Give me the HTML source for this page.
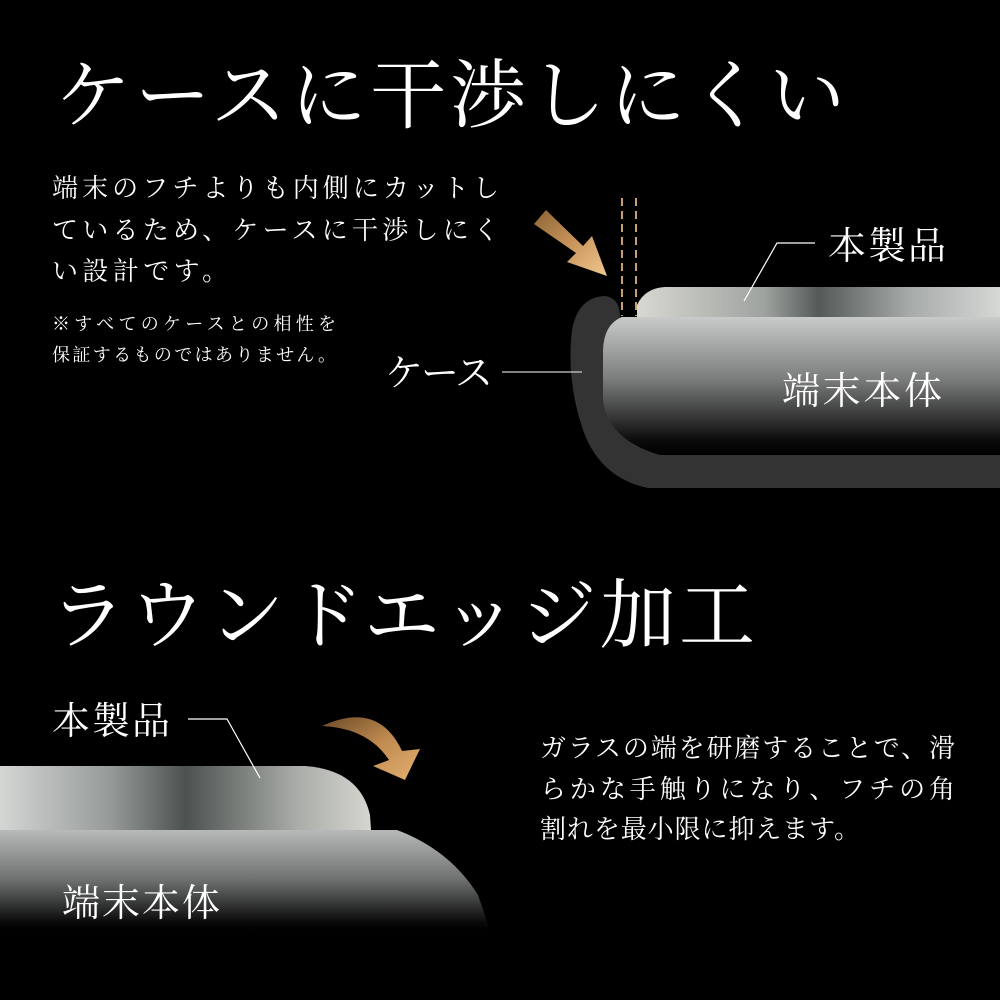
<!DOCTYPE html>
<html><head><meta charset="utf-8"><style>
html,body{margin:0;padding:0;background:#000;}
svg{display:block}
text{font-family:"Liberation Serif","Noto Serif CJK SC","Noto Sans CJK JP",serif;fill:#fff}
</style></head><body>
<svg width="1000" height="1000" viewBox="0 0 1000 1000" xmlns="http://www.w3.org/2000/svg">
<defs>
<linearGradient id="gold" x1="0" y1="0" x2="1" y2="1">
<stop offset="0" stop-color="#8a6436"/><stop offset="0.5" stop-color="#c8935a"/><stop offset="1" stop-color="#f0c890"/></linearGradient>
<linearGradient id="gold2" x1="0" y1="0" x2="1" y2="1">
<stop offset="0" stop-color="#6a4a26"/><stop offset="0.5" stop-color="#c08a50"/><stop offset="1" stop-color="#e2b070"/></linearGradient>
<linearGradient id="body" x1="0" y1="0" x2="0" y2="1">
<stop offset="0" stop-color="#c9cbca"/><stop offset="0.45" stop-color="#7b7c7c"/><stop offset="0.9" stop-color="#0a0a0a"/><stop offset="1" stop-color="#000"/></linearGradient>
<linearGradient id="body2" x1="0" y1="0" x2="0" y2="1">
<stop offset="0" stop-color="#b8baba"/><stop offset="0.5" stop-color="#6e7070"/><stop offset="0.92" stop-color="#0a0a0a"/><stop offset="1" stop-color="#000"/></linearGradient>
<linearGradient id="glass1" x1="0" y1="0" x2="1" y2="0">
<stop offset="0" stop-color="#d8d8d2"/><stop offset="0.35" stop-color="#9fa3a0"/><stop offset="0.5" stop-color="#535a58"/><stop offset="0.75" stop-color="#a6aaa8"/><stop offset="1" stop-color="#d6d8d6"/></linearGradient>
<linearGradient id="glass2" x1="0" y1="0" x2="1" y2="0">
<stop offset="0" stop-color="#d4d6d4"/><stop offset="0.3" stop-color="#959a98"/><stop offset="0.5" stop-color="#4c5250"/><stop offset="0.8" stop-color="#a9aca8"/><stop offset="1" stop-color="#d6d6d0"/></linearGradient>
</defs>

<text x="55" y="122" font-size="76" textLength="790" lengthAdjust="spacing">ケースに干渉しにくい</text>

<g font-size="26">
<text x="52" y="197" textLength="447" lengthAdjust="spacing">端末のフチよりも内側にカットし</text>
<text x="52" y="239" textLength="447" lengthAdjust="spacing">ているため、ケースに干渉しにく</text>
<text x="52" y="280" textLength="176" lengthAdjust="spacing">い設計です。</text>
</g>
<g font-size="18">
<text x="52" y="330" textLength="284" lengthAdjust="spacing">※すべてのケースとの相性を</text>
<text x="52" y="361" textLength="284" lengthAdjust="spacing">保証するものではありません。</text>
</g>

<path d="M1000 488 L648 488 Q600 478 583 430 Q566 380 572 330 Q578 297 605 296 Q620 298 620 317 L1000 317 Z" fill="#333"/>
<path d="M1000 317 L622 317 Q604 324 603 350 L603 400 Q608 440 660 455 L1000 455 Z" fill="url(#body)"/>
<path d="M637 317 L637 305 Q645 288 665 287 L1000 287 L1000 317 Z" fill="url(#glass1)"/>
<g stroke="#c9a070" stroke-width="2" stroke-dasharray="8,5">
<line x1="622" y1="198" x2="622" y2="316"/><line x1="636" y1="198" x2="636" y2="316"/>
</g>
<polygon points="534,224 546,210 583,246 592,236 607,276 567,262 576,253" fill="url(#gold)"/>
<polyline points="744,301 777,243 815,243" fill="none" stroke="#fff" stroke-width="1.2"/>
<line x1="502" y1="372" x2="582" y2="372" stroke="#ccc" stroke-width="1.2"/>
<text x="828" y="259" font-size="38" textLength="118" lengthAdjust="spacing">本製品</text>
<text x="782" y="404" font-size="38" textLength="160" lengthAdjust="spacing">端末本体</text>
<text x="385" y="386" font-size="38" textLength="108" lengthAdjust="spacing">ケース</text>

<text x="50" y="642" font-size="76" textLength="705" lengthAdjust="spacing">ラウンドエッジ加工</text>

<path d="M0 830 L397 830 Q450 850 478 895 L490 930 L0 930 Z" fill="url(#body2)"/>
<path d="M0 766 L305 766 Q360 770 370 815 L371 830 L0 830 Z" fill="url(#glass2)"/>
<path d="M322 726 Q378 700 402 751 L420 749 L405 780 L373 766 L389 760 Q368 728 322 726 Z" fill="url(#gold2)"/>
<polyline points="260,778 227,719 188,719" fill="none" stroke="#fff" stroke-width="1.2"/>
<text x="52" y="734" font-size="38" textLength="118" lengthAdjust="spacing">本製品</text>
<text x="62" y="916" font-size="38" textLength="158" lengthAdjust="spacing">端末本体</text>

<g font-size="26">
<text x="540" y="757" textLength="415" lengthAdjust="spacing">ガラスの端を研磨することで、滑</text>
<text x="540" y="798" textLength="415" lengthAdjust="spacing">らかな手触りになり、フチの角</text>
<text x="540" y="838" textLength="320" lengthAdjust="spacing">割れを最小限に抑えます。</text>
</g>
</svg>
</body></html>
